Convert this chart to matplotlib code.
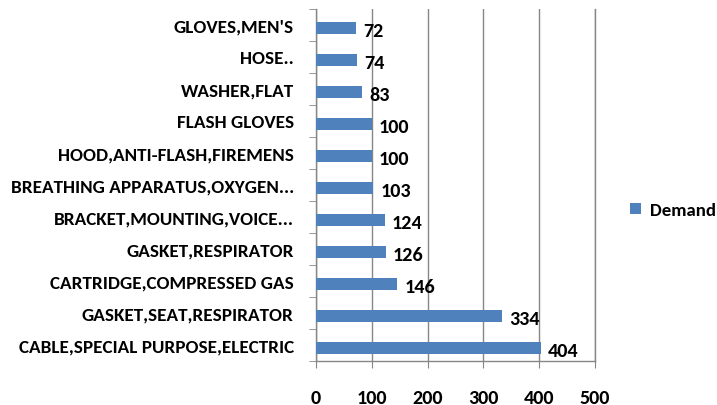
import matplotlib
matplotlib.use("Agg")
import matplotlib.pyplot as plt
import numpy as np

categories = ["CABLE,SPECIAL PURPOSE,ELECTRIC", "GASKET,SEAT,RESPIRATOR",
              "CARTRIDGE,COMPRESSED GAS", "GASKET,RESPIRATOR",
              "BRACKET,MOUNTING,VOICE...", "BREATHING APPARATUS,OXYGEN...",
              "HOOD,ANTI-FLASH,FIREMENS", "FLASH GLOVES", "WASHER,FLAT",
              "HOSE..", "GLOVES,MEN'S"]
demand = [404, 334, 146, 126, 124, 103, 100, 100, 83, 74, 72]
xticks = [0, 100, 200, 300, 400, 500]

plt.rcParams['font.family'] = ['Carlito', 'DejaVu Sans']
fs = 14.5

fig = plt.figure(figsize=(7.17, 4.06), dpi=100)
ax = fig.add_axes([0.4407, 0.1084, 0.3891, 0.867])
color = '#4F81BD'
y = np.arange(len(categories))
bars = ax.barh(y - 0.1, demand, height=0.37, color=color, label='Demand', zorder=3)
for yi, v in zip(y, demand):
    ax.text(v + 12, yi - 0.16, str(v), va='center', ha='left', fontsize=fs,
            fontweight='bold', color='black')
ax.set_xlim(0, 500)
ax.set_ylim(-0.5, len(categories) - 0.5)
ax.set_xticks(xticks)
ax.set_xticklabels([str(t) for t in xticks], fontsize=fs, fontweight='bold')
ax.set_yticks(y)
ax.set_yticklabels(categories, fontsize=13.8, fontweight='bold')
ax.set_yticks(np.arange(-0.5, len(categories), 1), minor=True)
ax.tick_params(axis='y', which='major', length=0, pad=16)
ax.tick_params(axis='y', which='minor', length=5, color='#868686', direction='out')
ax.tick_params(axis='x', which='major', length=5, color='#868686', direction='out', pad=15)
ax.grid(axis='x', color='#868686', linewidth=1, zorder=0)
ax.spines['top'].set_visible(False)
ax.spines['right'].set_visible(False)
for s in ['left', 'bottom']:
    ax.spines[s].set_color('#868686')
    ax.spines[s].set_linewidth(1)
ax.axvline(500, color='#868686', linewidth=1, zorder=0, clip_on=False)
fig.legend(handles=[bars], labels=['Demand'], loc='center left',
           bbox_to_anchor=(0.865, 0.48), frameon=False,
           prop={'weight': 'bold', 'size': fs - 1}, handlelength=0.6,
           handleheight=0.6, handletextpad=0.5, borderpad=0.0)
fig.savefig('out.png', dpi=100)
